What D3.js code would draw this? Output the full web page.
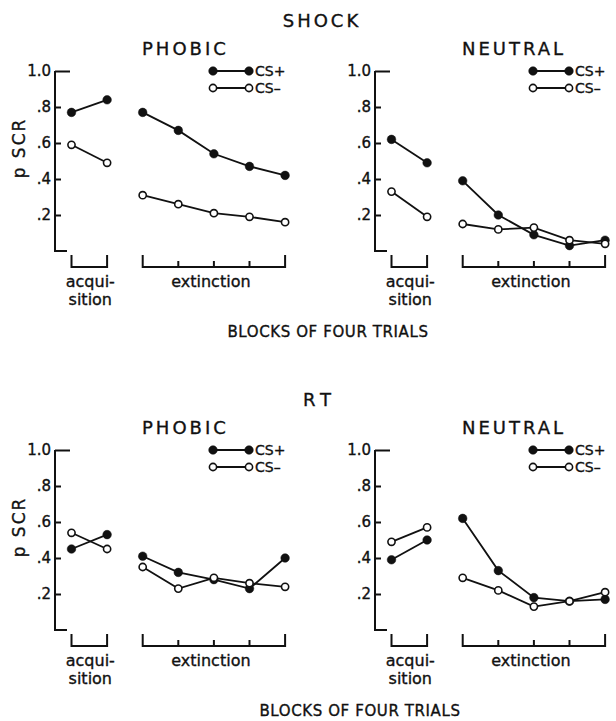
<!DOCTYPE html>
<html>
<head>
<meta charset="utf-8">
<script src="https://cdn.jsdelivr.net/npm/d3@7"></script>
<style>
  body { margin: 0; background: #fff; }
  text { font-family: "DejaVu Sans", sans-serif; fill: #111; stroke: #111; stroke-width: 0.35px; }
</style>
</head>
<body>
<div id="chart"></div>
<script>
// blocks of four trials: 2 acquisition blocks, then 5 extinction blocks
var acqBlocks = ["a1", "a2"];
var extBlocks = ["e1", "e2", "e3", "e4", "e5"];
var yTicks = [0.2, 0.4, 0.6, 0.8, 1.0];

// p SCR values, acquisition first then extinction
var shockPhobicPlus  = [0.77, 0.84, 0.77, 0.67, 0.54, 0.47, 0.42];
var shockPhobicMinus = [0.59, 0.49, 0.31, 0.26, 0.21, 0.19, 0.16];
var shockNeutralPlus  = [0.62, 0.49, 0.39, 0.20, 0.09, 0.03, 0.06];
var shockNeutralMinus = [0.33, 0.19, 0.15, 0.12, 0.13, 0.06, 0.04];
var rtPhobicPlus  = [0.45, 0.53, 0.41, 0.32, 0.28, 0.23, 0.40];
var rtPhobicMinus = [0.54, 0.45, 0.35, 0.23, 0.29, 0.26, 0.24];
var rtNeutralPlus  = [0.39, 0.50, 0.62, 0.33, 0.18, 0.16, 0.17];
var rtNeutralMinus = [0.49, 0.57, 0.29, 0.22, 0.13, 0.16, 0.21];

var svgWidth = 616;
var svgHeight = 721;

var rowTop = [71, 450];     // y of 1.0 in each row
var colAxis = [55, 375];    // x of the y axis in each column
var plotHeight = 180;
var step = 35.6;

var groups = [
  { title: "SHOCK", spacing: "3px", titleX: 322, blocksX: 328 },
  { title: "RT", spacing: "6px", titleX: 320, blocksX: 360 }
];

var panels = [
  { row: 0, col: 0, name: "PHOBIC", plus: shockPhobicPlus, minus: shockPhobicMinus },
  { row: 0, col: 1, name: "NEUTRAL", plus: shockNeutralPlus, minus: shockNeutralMinus },
  { row: 1, col: 0, name: "PHOBIC", plus: rtPhobicPlus, minus: rtPhobicMinus },
  { row: 1, col: 1, name: "NEUTRAL", plus: rtNeutralPlus, minus: rtNeutralMinus }
];

var svg = d3.select("#chart")
  .append("svg")
  .attr("width", svgWidth)
  .attr("height", svgHeight);

var allBlocks = acqBlocks.concat(extBlocks);

var xScale = d3.scalePoint()
  .domain(allBlocks)
  .range([16.5, 16.5 + step * (allBlocks.length - 1)]);

var yScale = d3.scaleLinear()
  .domain([0, 1])
  .range([plotHeight, 0]);

var line = d3.line()
  .x(d => xScale(d.block))
  .y(d => yScale(d.value));

// row headings and "BLOCKS OF FOUR TRIALS"
groups.forEach(function(g, r) {
  svg.append("text")
    .attr("x", g.titleX)
    .attr("y", rowTop[r] - 44)
    .attr("text-anchor", "middle")
    .attr("font-size", "18px")
    .attr("letter-spacing", g.spacing)
    .text(g.title);

  svg.append("text")
    .attr("x", g.blocksX)
    .attr("y", rowTop[r] + plotHeight + 86)
    .attr("text-anchor", "middle")
    .attr("font-size", "15px")
    .attr("letter-spacing", "0.6px")
    .text("BLOCKS OF FOUR TRIALS");

  // y label
  svg.append("text")
    .attr("transform", `translate(25, ${rowTop[r] + 77}) rotate(-90)`)
    .attr("text-anchor", "middle")
    .attr("font-size", "17px")
    .attr("letter-spacing", "2px")
    .text("p SCR");
});

panels.forEach(function(p) {
  var g = svg.append("g")
    .attr("transform", `translate(${colAxis[p.col]}, ${rowTop[p.row]})`);

  // panel name
  g.append("text")
    .attr("x", 87)
    .attr("y", -16)
    .attr("font-size", "18px")
    .attr("letter-spacing", "3px")
    .text(p.name);

  // y axis
  var leftAxis = d3.axisLeft(yScale)
    .tickValues(yTicks)
    .tickSizeInner(-6)
    .tickSizeOuter(0)
    .tickPadding(4)
    .tickFormat(d => d === 1 ? "1.0" : d3.format(".1f")(d).slice(1));

  var axisG = g.append("g").call(leftAxis);
  axisG.select(".domain").remove();
  axisG.selectAll(".tick line")
    .attr("stroke", "#111")
    .attr("stroke-width", 2)
    .attr("x2", d => d === 1 ? 15 : 6);
  axisG.selectAll(".tick text")
    .attr("font-size", "15px")
    .attr("font-family", "DejaVu Sans, sans-serif")
    .attr("fill", "#111");

  g.append("path")
    .attr("d", `M0,${yScale(1)}V${yScale(0)}H12`)
    .attr("fill", "none")
    .attr("stroke", "#111")
    .attr("stroke-width", 2);

  // brackets under the blocks
  var bTop = plotHeight + 4;
  var bBot = plotHeight + 16;
  [acqBlocks, extBlocks].forEach(function(set) {
    var x0 = xScale(set[0]);
    var x1 = xScale(set[set.length - 1]);
    g.append("path")
      .attr("d", `M${x0},${bTop}V${bBot}H${x1}V${bTop}`)
      .attr("fill", "none")
      .attr("stroke", "#111")
      .attr("stroke-width", 2);
    set.slice(1, -1).forEach(function(b) {
      g.append("line")
        .attr("x1", xScale(b)).attr("x2", xScale(b))
        .attr("y1", bBot - 6).attr("y2", bBot)
        .attr("stroke", "#111")
        .attr("stroke-width", 2);
    });
  });

  var acqMid = (xScale(acqBlocks[0]) + xScale(acqBlocks[1])) / 2;
  var extMid = (xScale(extBlocks[0]) + xScale(extBlocks[4])) / 2;

  g.append("text")
    .attr("x", acqMid + 1)
    .attr("y", plotHeight + 36)
    .attr("text-anchor", "middle")
    .attr("font-size", "16px")
    .text("acqui-");
  g.append("text")
    .attr("x", acqMid + 1)
    .attr("y", plotHeight + 54)
    .attr("text-anchor", "middle")
    .attr("font-size", "16px")
    .text("sition");
  g.append("text")
    .attr("x", extMid - 3)
    .attr("y", plotHeight + 36)
    .attr("text-anchor", "middle")
    .attr("font-size", "16px")
    .text("extinction");

  // series
  var series = [
    { values: p.plus, filled: true },
    { values: p.minus, filled: false }
  ];

  series.forEach(function(s) {
    var pts = allBlocks.map((b, i) => ({ block: b, value: s.values[i] }));
    [pts.slice(0, 2), pts.slice(2)].forEach(function(seg) {
      g.append("path")
        .datum(seg)
        .attr("d", line)
        .attr("fill", "none")
        .attr("stroke", "#111")
        .attr("stroke-width", 1.8);
    });
    s.pts = pts;
  });

  series.forEach(function(s) {
    g.selectAll(null)
      .data(s.pts)
      .enter()
      .append("circle")
      .attr("cx", d => xScale(d.block))
      .attr("cy", d => yScale(d.value))
      .attr("r", s.filled ? 4.3 : 3.6)
      .attr("fill", s.filled ? "#111" : "#fff")
      .attr("stroke", "#111")
      .attr("stroke-width", s.filled ? 0.5 : 1.6);
  });

  // legend
  var legend = g.append("g").attr("transform", "translate(158, 0)");
  series.forEach(function(s, i) {
    var ly = i * 17;
    legend.append("line")
      .attr("x1", 0).attr("x2", 36)
      .attr("y1", ly).attr("y2", ly)
      .attr("stroke", "#111")
      .attr("stroke-width", 1.8);
    [0, 36].forEach(function(cx) {
      legend.append("circle")
        .attr("cx", cx).attr("cy", ly)
        .attr("r", s.filled ? 4.3 : 3.6)
        .attr("fill", s.filled ? "#111" : "#fff")
        .attr("stroke", "#111")
        .attr("stroke-width", s.filled ? 0.5 : 1.6);
    });
    legend.append("text")
      .attr("x", 42)
      .attr("y", ly + 5)
      .attr("font-size", "14px")
      .text(s.filled ? "CS+" : "CS\u2013");
  });
});
</script>
</body>
</html>
